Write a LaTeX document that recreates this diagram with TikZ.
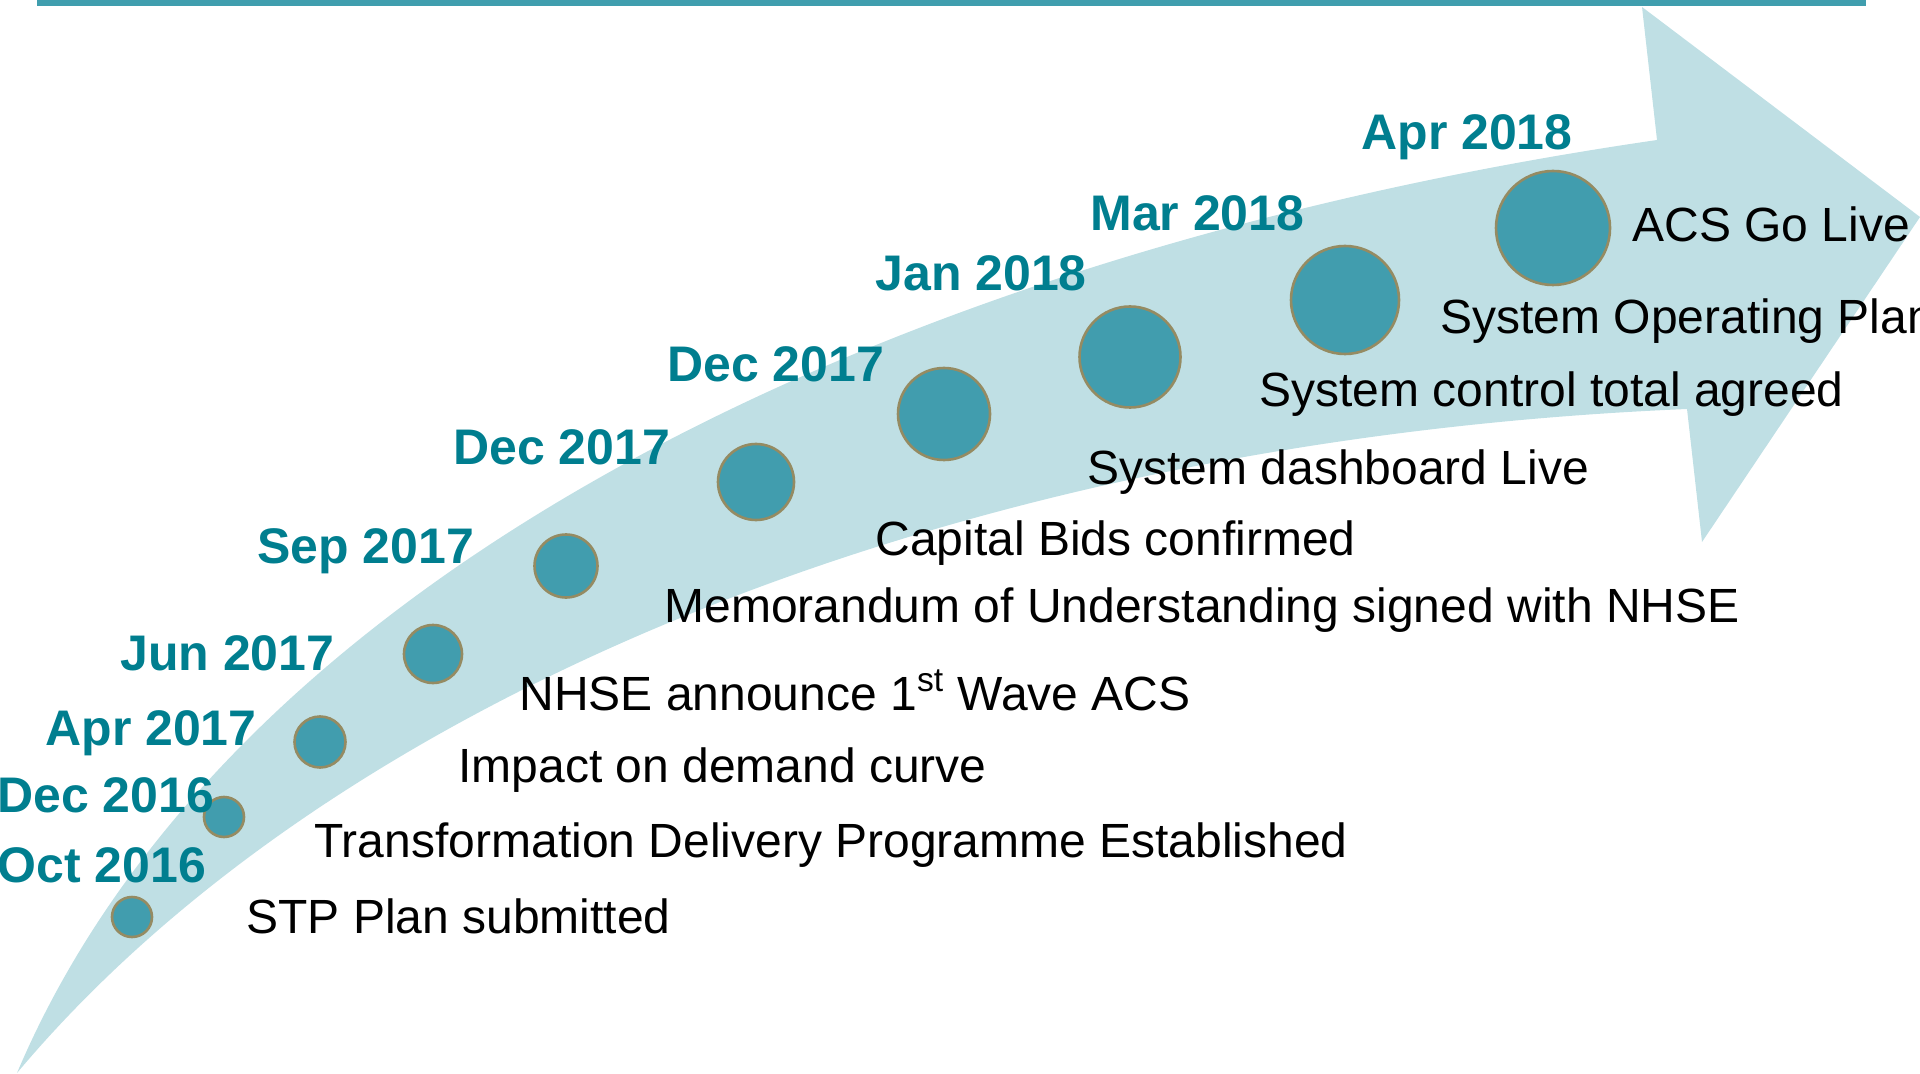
\documentclass[tikz,border=0pt]{standalone}
\usepackage{fontspec}
\setmainfont{Liberation Sans}
\definecolor{bandblue}{HTML}{BFDFE4}
\definecolor{dotteal}{HTML}{419DAE}
\definecolor{dotrim}{HTML}{958B62}
\definecolor{rulecol}{HTML}{409EAE}
\definecolor{datecol}{HTML}{007E8F}
\begin{document}
\begin{tikzpicture}[x=0.5pt,y=-0.5pt,
  milestone/.style={circle, fill=dotteal, draw=dotrim, line width=1.3pt, inner sep=0pt},
  datelabel/.style={anchor=base west, inner sep=0pt, text=datecol,
    font=\fontsize{25}{30}\selectfont\bfseries},
  eventlabel/.style={anchor=base west, inner sep=0pt, text=black,
    font=\fontsize{24}{29}\selectfont}]
\useasboundingbox (0,0) rectangle (1920,1074);

% curved arrow band
\fill[bandblue] (17,1073) .. controls (230,570) and (900,250) .. (1657,140)
  -- (1642,7) -- (1920,217) -- (1702,542) -- (1687,409)
  .. controls (950,440) and (330,700) .. (17,1073) -- cycle;

% rule along the top
\fill[rulecol] (37,0) rectangle (1866,6);

% milestones
\node[milestone, minimum size=20pt]   (c1)  at (132,917) {};
\node[milestone, minimum size=20pt]   (c2)  at (224,817) {};
\node[milestone, minimum size=25.5pt] (c3)  at (320,742) {};
\node[milestone, minimum size=29pt]   (c4)  at (433,654) {};
\node[milestone, minimum size=31.5pt] (c5)  at (566,566) {};
\node[milestone, minimum size=38pt]   (c6)  at (756,482) {};
\node[milestone, minimum size=46pt]   (c7)  at (944,414) {};
\node[milestone, minimum size=50.5pt] (c8)  at (1130,357) {};
\node[milestone, minimum size=54pt]   (c9)  at (1345,300) {};
\node[milestone, minimum size=57pt]   (c10) at (1553,228) {};

% dates
\node[datelabel] (d1)  at (-3,882)   {Oct 2016};
\node[datelabel] (d2)  at (-3,812)   {Dec 2016};
\node[datelabel] (d3)  at (45,745)   {Apr 2017};
\node[datelabel] (d4)  at (120,670)  {Jun 2017};
\node[datelabel] (d5)  at (257,563)  {Sep 2017};
\node[datelabel] (d6)  at (453,465)  {Dec 2017};
\node[datelabel] (d7)  at (667,382)  {Dec 2017};
\node[datelabel] (d8)  at (875,291)  {Jan 2018};
\node[datelabel] (d9)  at (1090,231) {Mar 2018};
\node[datelabel] (d10) at (1361,150) {Apr 2018};

% events
\node[eventlabel] (e1)  at (246,933)  {STP Plan submitted};
\node[eventlabel] (e2)  at (314,857)  {Transformation Delivery Programme Established};
\node[eventlabel] (e3)  at (458,782)  {Impact on demand curve};
\node[eventlabel] (e4)  at (519,710)  {NHSE announce 1\textsuperscript{st} Wave ACS};
\node[eventlabel] (e5)  at (664,622)  {Memorandum of Understanding signed with NHSE};
\node[eventlabel] (e6)  at (875,555)  {Capital Bids confirmed};
\node[eventlabel] (e7)  at (1087,485) {System dashboard Live};
\node[eventlabel] (e8)  at (1259,407) {System control total agreed};
\node[eventlabel] (e9)  at (1440,334) {System Operating Plan};
\node[eventlabel] (e10) at (1632,242) {ACS Go Live};
\end{tikzpicture}
\end{document}
